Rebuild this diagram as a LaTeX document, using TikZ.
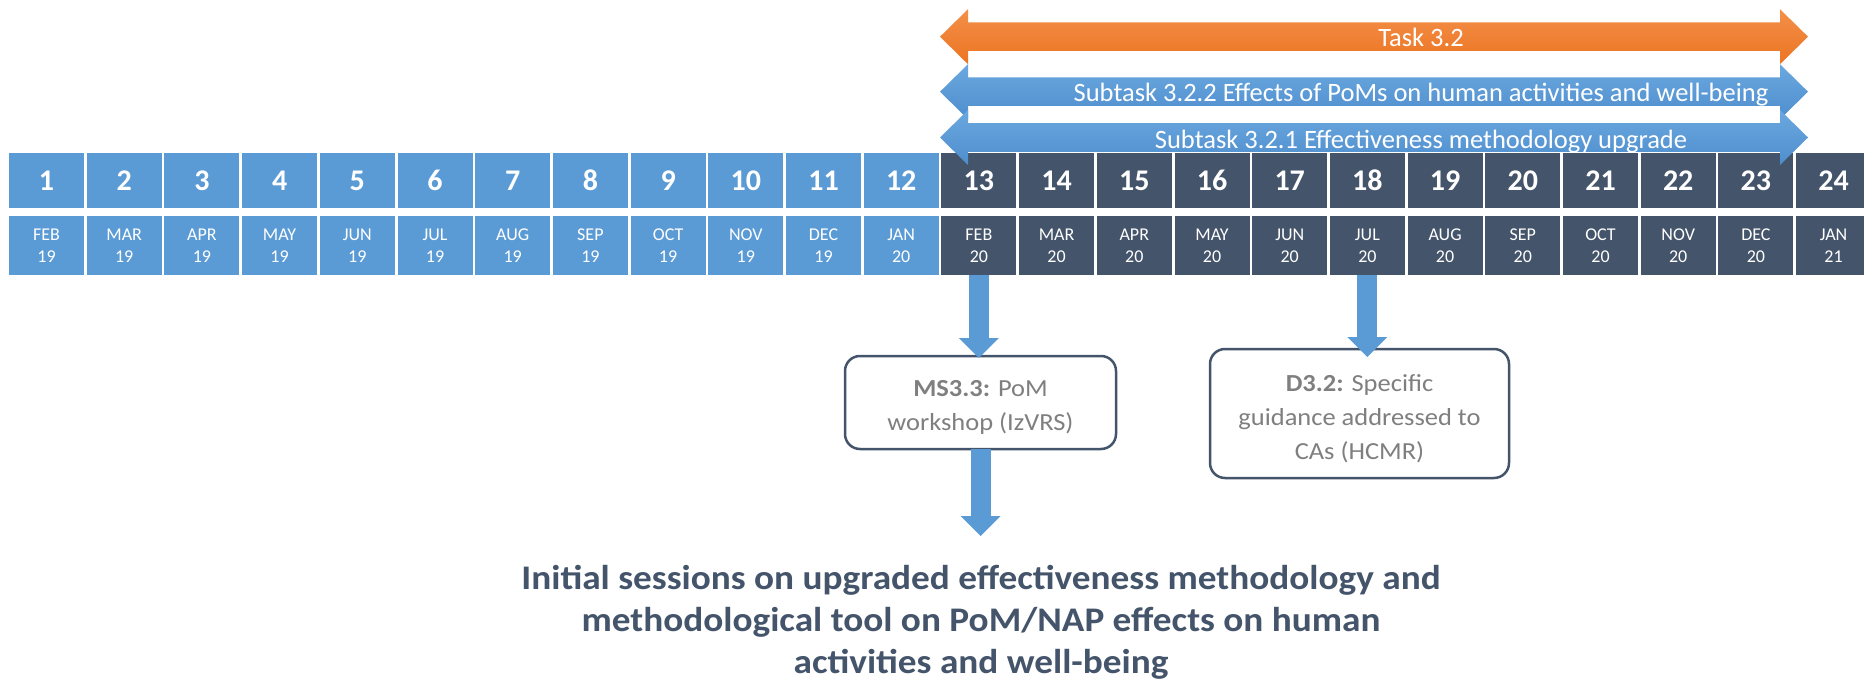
\documentclass[tikz,border=0pt]{standalone}
\usepackage{fontspec}
\setmainfont{Carlito}
\newfontfamily\widefont[FakeStretch=1.08]{Carlito}
\usetikzlibrary{arrows.meta}

\definecolor{tlblue}{HTML}{5B9BD5}
\definecolor{tdark}{HTML}{44546A}
\definecolor{tgrey}{HTML}{7F7F7F}
\definecolor{torangetop}{HTML}{F39049}
\definecolor{torangebot}{HTML}{EC7422}
\definecolor{tbluetop}{HTML}{6BA8E0}
\definecolor{tbluebot}{HTML}{4E8ECD}

\begin{document}
\begin{tikzpicture}[x=1pt, y=-1pt,
        numbox/.style={fill=#1, minimum width=75pt, minimum height=55pt, inner sep=0,
                       text=white, font=\bfseries\fontsize{30}{36}\selectfont},
        monbox/.style={fill=#1, minimum width=75pt, minimum height=59pt, inner sep=0,
                       text=white, align=center, font=\fontsize{18}{21.7}\selectfont},
        bartext/.style={text=white, inner sep=0, anchor=base,
                        font=\fontsize{26.5}{30}\selectfont},
        orangebar/.style={top color=torangetop, bottom color=torangebot},
        bluebar/.style={top color=tbluetop, bottom color=tbluebot},
        outbox/.style={draw=tdark, line width=2.5pt, rounded corners=15pt, fill=white,
                       outer sep=0, text=tgrey, align=center,
                       font=\widefont\fontsize{24.5}{34}\selectfont},
        downarrow/.style={draw=tlblue, line width=20pt,
                          -{Triangle[length=20pt, width=40pt, line width=0pt]}}]
    \useasboundingbox (0,0) rectangle (1864,682);
    \clip (0,0) rectangle (1864,682);
    \fill[white] (0,0) rectangle (1864,682);

    % task bar
    \shade[orangebar] (940,36.7) -- ++(28,-27.5) -- ++(0,13.2) -- ++(812,0) -- ++(0,-13.2) -- ++(28,27.5)
        -- ++(-28,27.5) -- ++(0,-13.2) -- ++(-812,0) -- ++(0,13.2) -- cycle;
    \shade[bluebar] (940,91.7) -- ++(28,-27.5) -- ++(0,13.2) -- ++(812,0) -- ++(0,-13.2) -- ++(28,27.5)
        -- ++(-28,27.5) -- ++(0,-13.2) -- ++(-812,0) -- ++(0,13.2) -- cycle;

    % months
    \foreach \i/\mon/\yr in {1/FEB/19, 2/MAR/19, 3/APR/19, 4/MAY/19, 5/JUN/19, 6/JUL/19,
                             7/AUG/19, 8/SEP/19, 9/OCT/19, 10/NOV/19, 11/DEC/19, 12/JAN/20,
                             13/FEB/20, 14/MAR/20, 15/APR/20, 16/MAY/20, 17/JUN/20, 18/JUL/20,
                             19/AUG/20, 20/SEP/20, 21/OCT/20, 22/NOV/20, 23/DEC/20, 24/JAN/21} {
        \ifnum\i<13 \def\boxcol{tlblue}\else\def\boxcol{tdark}\fi
        \node[numbox=\boxcol] (num\i) at ({46.5+(\i-1)*77.7}, 180.5) {\i};
        \node[monbox=\boxcol] (mon\i) at ({46.5+(\i-1)*77.7}, 245.5) {\mon\\\yr};
    }

    \shade[bluebar] (940,137.5) -- ++(28,-27.5) -- ++(0,13.2) -- ++(812,0) -- ++(0,-13.2) -- ++(28,27.5)
        -- ++(-28,27.5) -- ++(0,-13.2) -- ++(-812,0) -- ++(0,13.2) -- cycle;

    \node[bartext] (t32) at (1421,46.7) {Task 3.2};
    \node[bartext] (t322) at (1421,101.7) {Subtask 3.2.2 Effects of PoMs on human activities and well-being};
    \node[bartext] (t321) at (1421,149) {Subtask 3.2.1 Effectiveness methodology upgrade};

    % milestones
    \node[outbox, minimum width=271pt, minimum height=93pt] (ms33) at (980.5,402.5)
        {\rule{0pt}{25pt}\textbf{MS3.3:} PoM\\workshop (IzVRS)};
    \node[outbox, minimum width=299pt, minimum height=129pt] (d32) at (1359.5,413.5)
        {\rule{0pt}{27pt}\textbf{D3.2:} Specific\\guidance addressed to\\CAs (HCMR)};
    \node[anchor=north, inner xsep=0, inner ysep=29pt, text=tdark, align=center,
          font=\widefont\bfseries\fontsize{34.5}{42}\selectfont] (outcome) at (981,536)
        {Initial sessions on upgraded effectiveness methodology and\\
         methodological tool on PoM/NAP effects on human\\activities and well-being};

    \draw[downarrow, shorten >=-2pt] (mon13.south) -- (mon13.south |- ms33.north);
    \draw[downarrow, shorten >=-8pt] (mon18.south) -- (mon18.south |- d32.north);
    \draw[downarrow] (ms33.south) -- (ms33.south |- outcome.north);
\end{tikzpicture}
\end{document}
